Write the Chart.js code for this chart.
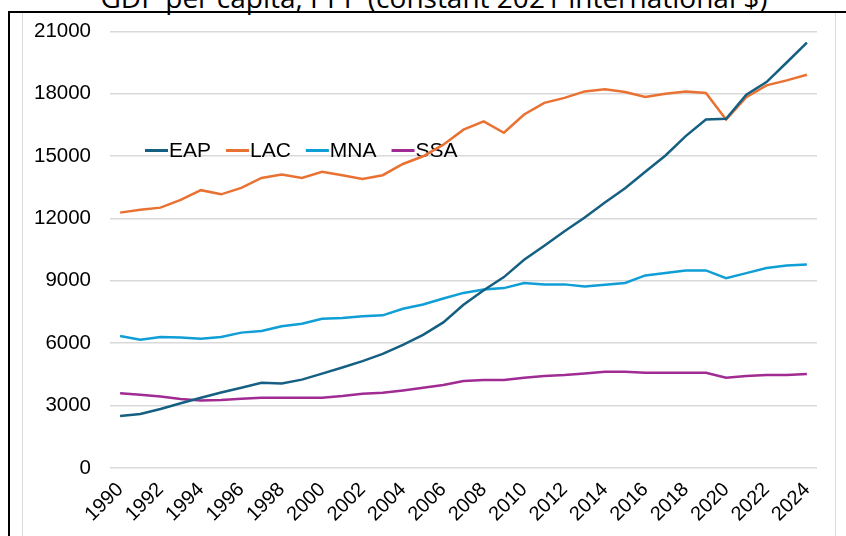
<!DOCTYPE html>
<html>
<head>
<meta charset="utf-8">
<script src="https://cdn.jsdelivr.net/npm/chart.js@4.4.1/dist/chart.umd.min.js"></script>
<style>
  html, body { margin: 0; padding: 0; background: #fff; overflow: hidden; }
  body { width: 846px; height: 536px; position: relative; }
  #title { position: absolute; left: 0; width: 868px; top: -18px; text-align: center;
           font-family: "Open Sans", "Noto Sans", sans-serif; font-size: 28px; line-height: 30px; color: #000; white-space: nowrap; }
  #blackframe { position: absolute; left: 8px; top: 11px; width: 850px; height: 540px;
                border-top: 2px solid #000; border-left: 2px solid #000; box-sizing: border-box; }
  #grayframe { position: absolute; left: 22px; top: 13px; width: 814px; height: 540px;
               border-left: 1.5px solid #d9d9d9; border-right: 1.5px solid #d9d9d9; box-sizing: border-box; }
  #wrap { position: absolute; left: 0; top: 0; width: 846px; height: 536px; }
</style>
</head>
<body>
<div id="title">GDP per capita, PPP (constant 2021 international $)</div>
<div id="blackframe"></div>
<div id="grayframe"></div>
<div id="wrap"><canvas id="c" width="846" height="536"></canvas></div>
<script>
const years = ["1990","1991","1992","1993","1994","1995","1996","1997","1998","1999",
  "2000","2001","2002","2003","2004","2005","2006","2007","2008","2009",
  "2010","2011","2012","2013","2014","2015","2016","2017","2018","2019",
  "2020","2021","2022","2023","2024"];
const seriesNames = ["EAP", "LAC", "MNA", "SSA"];
const EAP = [2500, 2600, 2840, 3110, 3380, 3630, 3860, 4100, 4060, 4250,
  4540, 4830, 5140, 5490, 5920, 6400, 7000, 7850, 8550, 9180,
  10010, 10690, 11380, 12050, 12770, 13450, 14250, 15030, 15960, 16760,
  16790, 17950, 18560, 19500, 20460];
const LAC = [12280, 12420, 12520, 12890, 13360, 13160, 13470, 13950, 14110, 13950,
  14240, 14080, 13900, 14080, 14620, 14990, 15550, 16270, 16670, 16120,
  17000, 17560, 17800, 18110, 18210, 18080, 17840, 18000, 18110, 18030,
  16760, 17830, 18400, 18640, 18910];
const MNA = [6345, 6170, 6300, 6270, 6220, 6300, 6510, 6590, 6820, 6940,
  7180, 7210, 7300, 7340, 7660, 7860, 8150, 8420, 8580, 8650,
  8900, 8830, 8830, 8730, 8810, 8900, 9260, 9380, 9500, 9500,
  9130, 9370, 9620, 9740, 9780];
const SSA = [3590, 3520, 3440, 3320, 3250, 3270, 3330, 3380, 3380, 3380,
  3380, 3460, 3570, 3620, 3730, 3860, 3990, 4180, 4230, 4230,
  4340, 4420, 4470, 4550, 4630, 4630, 4580, 4580, 4580, 4580,
  4340, 4420, 4470, 4470, 4520];
const yTicks = [0, 3000, 6000, 9000, 12000, 15000, 18000, 21000];
const colors = ["#156082", "#E97132", "#0F9ED5", "#A02B93"];

const FONT = "'Liberation Sans', Arial, sans-serif";

const lineLegend = {
  id: 'lineLegend',
  beforeDatasetsDraw(chart) {
    const ctx = chart.ctx;
    ctx.save();
    ctx.font = "21px " + FONT;
    ctx.textBaseline = 'middle';
    ctx.fillStyle = '#000';
    let x = 145;
    const y = 150.5;
    chart.data.datasets.forEach(ds => {
      ctx.strokeStyle = ds.borderColor;
      ctx.lineWidth = 3;
      ctx.beginPath();
      ctx.moveTo(x, y);
      ctx.lineTo(x + 23, y);
      ctx.stroke();
      ctx.fillText(ds.label, x + 24, y + 1);
      x += 24 + ctx.measureText(ds.label).width + 15;
    });
    ctx.restore();
  }
};

const datasets = [EAP, LAC, MNA, SSA].map((d, i) => ({
  label: seriesNames[i],
  data: d,
  borderColor: colors[i],
  backgroundColor: colors[i],
  borderWidth: 2.5,
  pointRadius: 0,
  tension: 0,
  fill: false
}));

new Chart(document.getElementById('c'), {
  type: 'line',
  data: { labels: years, datasets },
  options: {
    responsive: false,
    animation: false,
    layout: { padding: { left: 0, right: 29, top: 29.5, bottom: 0 } },
    plugins: { legend: { display: false }, title: { display: false }, tooltip: { enabled: false } },
    scales: {
      x: {
        offset: true,
        grid: { display: false, drawTicks: false },
        border: { display: false },
        afterFit(s) { s.height = 68; },
        ticks: {
          autoSkip: false,
          maxRotation: 45, minRotation: 45,
          padding: 10,
          color: '#000',
          font: { family: FONT, size: 20 },
          callback(v, i) { return (i % 2 === 0) ? years[i] : ''; }
        }
      },
      y: {
        min: 0, max: 21000,
        afterFit(s) { s.width = 110; },
        afterBuildTicks(s) { s.ticks = yTicks.map(v => ({ value: v })); },
        grid: { color: '#d9d9d9', lineWidth: 1.5, drawTicks: false },
        border: { display: false },
        ticks: {
          padding: 19,
          color: '#000',
          font: { family: FONT, size: 20.5 },
          callback(v) { return String(v); }
        }
      }
    }
  },
  plugins: [lineLegend]
});
</script>
</body>
</html>
